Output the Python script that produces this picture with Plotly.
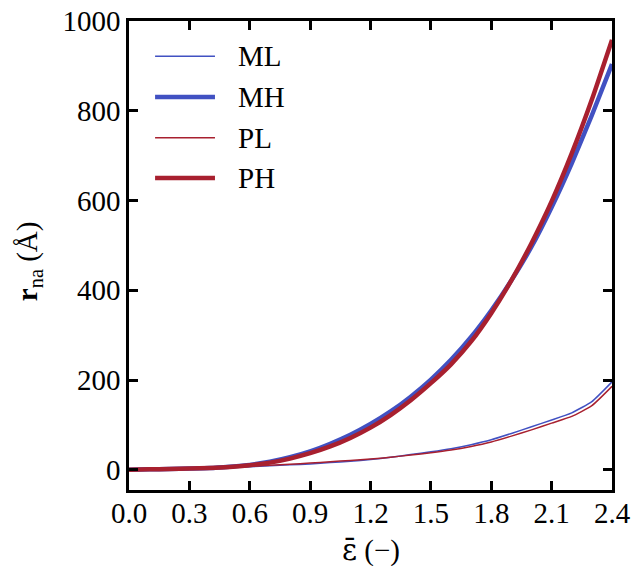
import plotly.graph_objects as go

# Equivalent plastic strain samples
strain = [0.0, 0.1, 0.2, 0.3, 0.4, 0.5, 0.6, 0.7, 0.8, 0.9, 1.0, 1.1, 1.2,
          1.3, 1.4, 1.5, 1.6, 1.7, 1.8, 1.9, 2.0, 2.1, 2.2, 2.3, 2.4]

# Non-affine displacement r_na (Å) for each case
ml = [0, 1, 2, 3, 4, 5, 7, 9, 11, 13, 16, 19, 23, 28, 34, 40, 47, 56, 67, 81,
      96, 111, 127, 152, 196]
mh = [0, 1, 2, 3, 4, 7, 11, 18, 28, 41, 58, 78, 102, 130, 163, 201, 245, 296,
      355, 422, 497, 585, 683, 790, 904]
pl = [0, 1, 2, 3, 4, 6, 8, 10, 12.5, 15, 18, 21, 24, 28, 33, 38, 44, 52, 62,
      75, 89, 104, 119, 143, 186]
ph = [0, 1, 2, 3, 4, 6, 10, 16, 25, 37, 52, 71, 94, 122, 155, 193, 235, 286,
      349, 422, 505, 598, 705, 825, 958]

x_ticks = [0.0, 0.3, 0.6, 0.9, 1.2, 1.5, 1.8, 2.1, 2.4]
x_tick_text = ["0.0", "0.3", "0.6", "0.9", "1.2", "1.5", "1.8", "2.1", "2.4"]
y_ticks = [0, 200, 400, 600, 800, 1000]

BLUE = "#4151c2"
RED = "#a8202f"
FONT = "Liberation Serif"
FS = 29

series = [
    ("ML", ml, BLUE, 1.5),
    ("MH", mh, BLUE, 4.5),
    ("PL", pl, RED, 1.5),
    ("PH", ph, RED, 4.5),
]

fig = go.Figure()
for name, vals, color, width in series:
    fig.add_trace(go.Scatter(x=strain, y=vals, mode="lines", name=name,
                             line=dict(color=color, width=width,
                                       shape="spline", smoothing=0.5),
                             showlegend=False))

# Hand-placed legend: sample line plus label for each series
legend_rows = [0.925, 0.838, 0.751, 0.665]
for (name, _, color, width), ly in zip(series, legend_rows):
    fig.add_shape(type="line", xref="paper", yref="paper",
                  x0=0.054, x1=0.178, y0=ly, y1=ly,
                  line=dict(color=color, width=width))
    fig.add_annotation(xref="paper", yref="paper", x=0.222, y=ly,
                       text=name, showarrow=False, xanchor="left",
                       yanchor="middle",
                       font=dict(family=FONT, size=FS, color="black"))

# Axis titles
fig.add_annotation(xref="paper", yref="paper", x=0.5, y=-0.128,
                   text='<span style="font-family:DejaVu Serif">\u03b5\u0304</span> (\u2212)',
                   showarrow=False, xanchor="center", yanchor="middle",
                   font=dict(family=FONT, size=FS, color="black"))
fig.add_annotation(xref="paper", yref="paper", x=-0.208, y=0.487,
                   text="<b>r</b><sub>na</sub> (\u00c5)", textangle=-90,
                   showarrow=False, xanchor="center", yanchor="middle",
                   font=dict(family=FONT, size=FS, color="black"))

axis_common = dict(showline=True, linecolor="black", linewidth=2.5,
                   mirror="allticks", ticks="inside", ticklen=9,
                   tickwidth=2.5, tickcolor="black", showgrid=False,
                   zeroline=False, automargin=False,
                   tickfont=dict(family=FONT, size=FS, color="black"))

fig.update_xaxes(range=[0, 2.4], tickvals=x_ticks, ticktext=x_tick_text,
                 ticklabelstandoff=-5, **axis_common)
fig.update_yaxes(range=[-45, 1000], tickvals=y_ticks, **axis_common)

fig.update_layout(width=632, height=566,
                  margin=dict(l=129, r=20, t=21, b=76),
                  plot_bgcolor="white", paper_bgcolor="white",
                  font=dict(family=FONT, size=FS, color="black"))

fig.write_html("out.html")
